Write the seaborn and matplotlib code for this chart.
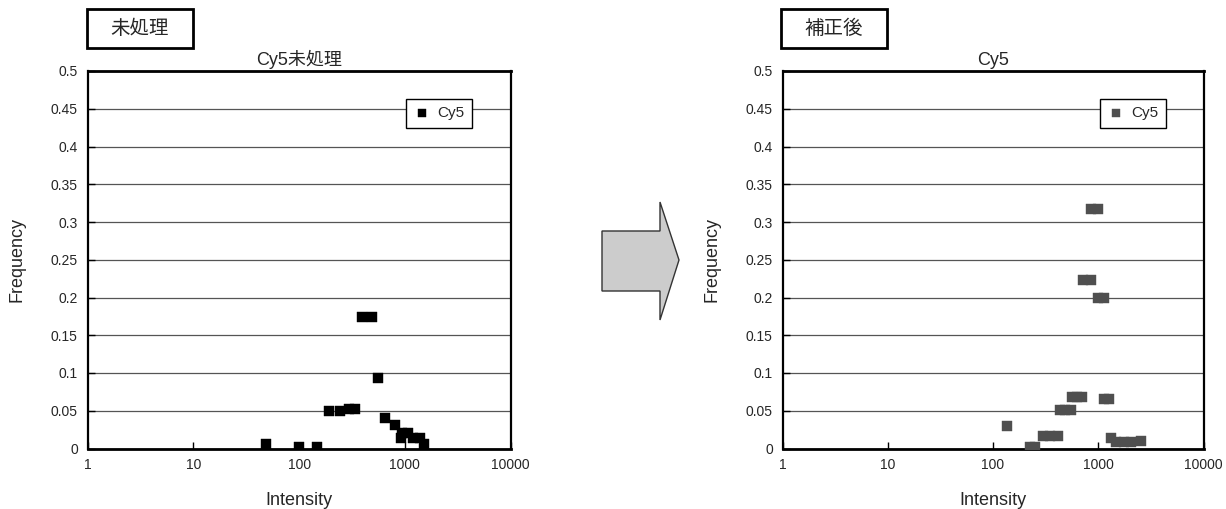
import pandas as pd
import matplotlib
matplotlib.use("Agg")
import matplotlib.pyplot as plt
import matplotlib.patches as mpatches
import seaborn as sns

# data (Intensity, Frequency)
raw_intensity = [49, 99, 148, 192, 243, 296, 337, 393, 489, 557, 649, 807, 919, 939, 1069, 1192, 1389, 1517]
raw_freq = [0.006, 0.0025, 0.0025, 0.0497, 0.0497, 0.0523, 0.0523, 0.174, 0.174, 0.0934, 0.040, 0.031,
            0.0139, 0.0205, 0.0205, 0.0139, 0.0139, 0.006]

corr_intensity = [849, 989, 713, 849, 989, 1128, 560, 632, 697, 1128, 1259, 431, 486, 548, 137,
                  297, 350, 413, 224, 250, 1314, 1483, 1766, 2058, 2560]
corr_freq = [0.317, 0.317, 0.223, 0.223, 0.1994, 0.1994, 0.068, 0.068, 0.068, 0.066, 0.066,
             0.0506, 0.0506, 0.0506, 0.0298, 0.0165, 0.0165, 0.0165, 0.002, 0.002, 0.0142,
             0.009, 0.009, 0.009, 0.0095]

x_ticks = [1, 10, 100, 1000, 10000]
x_tick_labels = ["1", "10", "100", "1000", "10000"]
y_ticks = [0, 0.05, 0.1, 0.15, 0.2, 0.25, 0.3, 0.35, 0.4, 0.45, 0.5]
y_tick_labels = ["0", "0.05", "0.1", "0.15", "0.2", "0.25", "0.3", "0.35", "0.4", "0.45", "0.5"]

panel_titles = ["Cy5未処理", "Cy5"]
box_labels = ["未処理", "補正後"]
series_name = "Cy5"

sns.set_style("white")
plt.rcParams["font.family"] = ["Liberation Sans", "Noto Sans CJK JP", "DejaVu Sans"]

W, H = 1226, 509
fig = plt.figure(figsize=(W / 100, H / 100), dpi=100)

ax1 = fig.add_axes([87.5 / W, (H - 448.5) / H, 423.2 / W, 377.5 / H])
ax2 = fig.add_axes([782.5 / W, (H - 448.5) / H, 421.0 / W, 377.5 / H])

df_raw = pd.DataFrame({"Intensity": raw_intensity, "Frequency": raw_freq})
df_corr = pd.DataFrame({"Intensity": corr_intensity, "Frequency": corr_freq})

panels = [(ax1, df_raw, "black"), (ax2, df_corr, "#4f4f4f")]
for i, (ax, df, col) in enumerate(panels):
    sns.scatterplot(data=df, x="Intensity", y="Frequency", ax=ax, marker="s", s=42,
                    color=col, edgecolor=col, linewidth=0.3, label=series_name, zorder=3)
    ax.set_xscale("log")
    ax.set_xlim(1, 10000)
    ax.set_ylim(0, 0.5)
    ax.set_xticks(x_ticks)
    ax.set_xticklabels(x_tick_labels)
    ax.minorticks_off()
    ax.set_yticks(y_ticks)
    ax.set_yticklabels(y_tick_labels)
    ax.tick_params(axis="both", direction="in", length=5, width=1, color="black",
                   labelsize=10, pad=7, left=True, bottom=True)
    ax.yaxis.grid(True, color="#555555", linewidth=0.9)
    ax.set_axisbelow(True)
    for side in ["left", "right", "top", "bottom"]:
        ax.spines[side].set_color("black")
        ax.spines[side].set_linewidth(1.6)
    ax.spines["top"].set_linewidth(2.0)
    ax.spines["bottom"].set_linewidth(2.0)
    ax.set_xlabel("Intensity", fontsize=13, labelpad=14)
    ax.set_ylabel("Frequency", fontsize=13, labelpad=18)
    ax.set_title(panel_titles[i], fontsize=13, pad=4)
    leg = ax.legend(loc="upper left", bbox_to_anchor=(0.753, 0.927), fontsize=11,
                    frameon=True, fancybox=False, framealpha=1, edgecolor="black",
                    borderpad=0.5, handlelength=1.1, handletextpad=0.45, markerscale=0.85,
                    borderaxespad=0)
    leg.get_frame().set_linewidth(1.0)

# label boxes above each chart
for x0, text in [(87, box_labels[0]), (781, box_labels[1])]:
    rect = mpatches.Rectangle((x0 / W, (H - 48) / H), 106 / W, 39 / H, transform=fig.transFigure,
                              facecolor="white", edgecolor="black", linewidth=2)
    fig.patches.append(rect)
    fig.text((x0 + 53) / W, (H - 28.5) / H, text, ha="center", va="center", fontsize=14)

# big arrow between the charts
arrow_px = [(602, 231), (660, 231), (660, 202), (679, 260), (660, 320), (660, 291), (602, 291)]
arrow = mpatches.Polygon([(x / W, (H - y) / H) for x, y in arrow_px], closed=True,
                         transform=fig.transFigure, facecolor="#cccccc", edgecolor="#333333",
                         linewidth=1)
fig.patches.append(arrow)

fig.savefig("out.png", dpi=100)
